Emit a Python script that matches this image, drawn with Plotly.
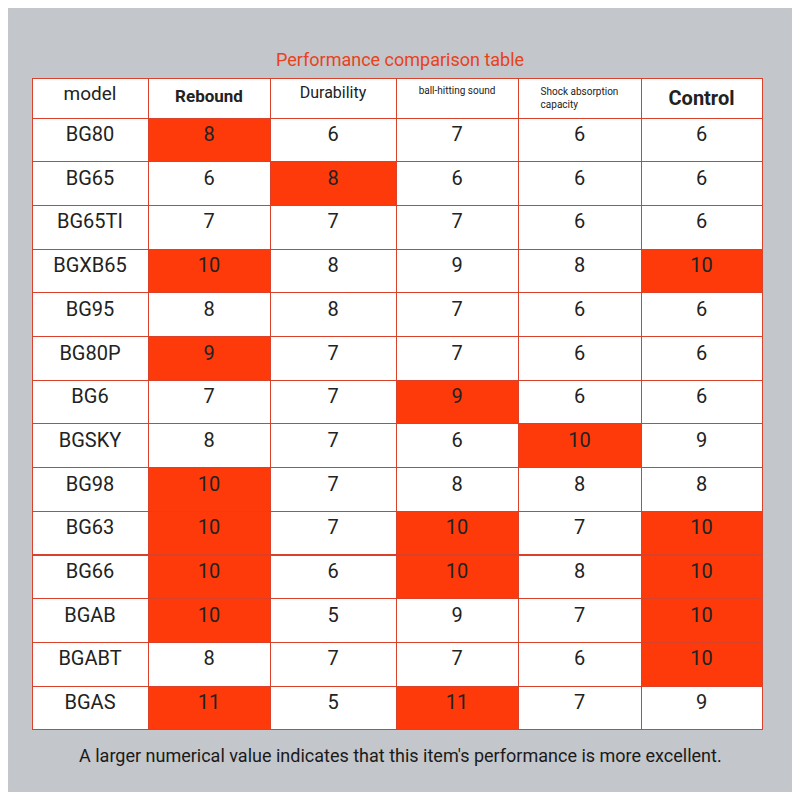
import plotly.graph_objects as go

models = ["BG80","BG65","BG65TI","BGXB65","BG95","BG80P","BG6","BGSKY","BG98","BG63","BG66","BGAB","BGABT","BGAS"]
rebound = [8,6,7,10,8,9,7,8,10,10,10,10,8,11]
durability = [6,8,7,8,8,7,7,7,7,7,6,5,7,5]
sound = [7,6,7,9,7,7,9,6,8,10,10,9,7,11]
shock = [6,6,6,8,6,6,6,10,8,7,8,7,6,7]
control = [6,6,6,10,6,6,6,9,8,10,10,10,10,9]
# highlighted cells (column index 1..5) per row
highlights = {0:[1],1:[2],3:[1,5],5:[1],6:[3],7:[4],8:[1],9:[1,3,5],10:[1,3,5],11:[1,5],12:[5],13:[1,3]}
headers = ["model", "<b>Rebound</b>", "Durability", "ball-hitting sound",
           "Shock absorption capacity", "<b>Control</b>"]

RED = "#ff3a0a"
W = 784
def py(p):  # reference pixel (from top) -> paper fraction
    return 1 - (p - 8) / W
def px(p):
    return (p - 8) / W

cols = [models, rebound, durability, sound, shock, control]
fills = [[RED if c in highlights.get(r, []) else "white" for r in range(len(models))] for c in range(6)]

fig = go.Figure(go.Table(
    domain=dict(x=[px(32), px(762)], y=[py(731), py(78)]),
    columnwidth=[116,122,126,122,123,121],
    header=dict(values=headers, height=40, fill_color="white",
                line=dict(color="#d9412b", width=1),
                font=dict(family="Roboto", size=[19,17,16,10,10,20], color="#222"),
                align="center"),
    cells=dict(values=cols, height=43.7, fill_color=fills,
               line=dict(color="#d9412b", width=1),
               font=dict(family="Roboto", size=20, color="#222"),
               align="center")
))
fig.update_layout(width=W, height=W, margin=dict(l=0,r=0,t=0,b=0),
                  paper_bgcolor="#c3c6ca",
                  annotations=[
                      dict(text="Performance comparison table", x=0.5, y=py(47), xref="paper", yref="paper",
                           showarrow=False, font=dict(family="Roboto", size=18, color="#e8421c")),
                      dict(text="A larger numerical value indicates that this item's performance is more excellent.",
                           x=0.5, y=py(768), xref="paper", yref="paper", showarrow=False,
                           font=dict(family="Roboto", size=18, color="#1a1a1a"))])
fig.write_html("out.html")
